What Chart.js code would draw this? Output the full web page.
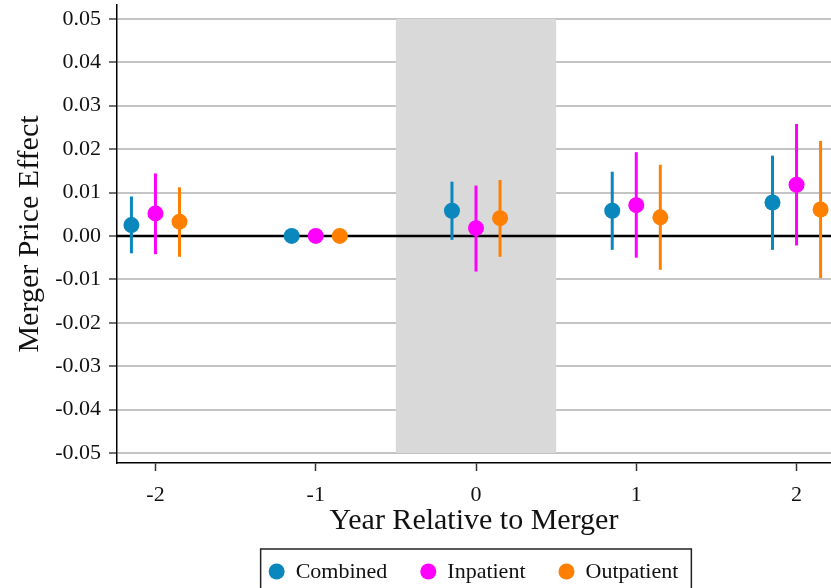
<!DOCTYPE html>
<html>
<head>
<meta charset="utf-8">
<script src="https://cdn.jsdelivr.net/npm/chart.js@4.4.0/dist/chart.umd.min.js"></script>
<style>
  html, body { margin: 0; padding: 0; background: #fff; }
  #wrap { width: 831px; height: 588px; position: relative; }
</style>
</head>
<body>
<div id="wrap"><canvas id="mergerChart"></canvas></div>
<script>
// Data
const years = [-2, -1, 0, 1, 2];
const seriesNames = ["Combined", "Inpatient", "Outpatient"];
const seriesOffsets = [-0.15, 0, 0.15];
const seriesColors = ["#0a87bd", "#ff00ff", "#ff8000"];

const combinedEst = [0.0025, 0, 0.0058, 0.0058, 0.0077];
const combinedLo = [-0.0040, 0, -0.0009, -0.0032, -0.0032];
const combinedHi = [0.0091, 0, 0.0125, 0.0148, 0.0185];

const inpatientEst = [0.0052, 0, 0.0018, 0.0071, 0.0118];
const inpatientLo = [-0.0042, 0, -0.0082, -0.0050, -0.0022];
const inpatientHi = [0.0144, 0, 0.0116, 0.0193, 0.0258];

const outpatientEst = [0.0033, 0, 0.0041, 0.0043, 0.0061];
const outpatientLo = [-0.0048, 0, -0.0048, -0.0078, -0.0097];
const outpatientHi = [0.0112, 0, 0.0129, 0.0164, 0.0219];

const xTicks = [-2, -1, 0, 1, 2];
const yTicks = [-0.05, -0.04, -0.03, -0.02, -0.01, 0, 0.01, 0.02, 0.03, 0.04, 0.05];
const shadeX = [-0.5, 0.5];
const shadeY = [-0.05, 0.05];

const estimates = [combinedEst, inpatientEst, outpatientEst];
const lows = [combinedLo, inpatientLo, outpatientLo];
const highs = [combinedHi, inpatientHi, outpatientHi];

const serif = "'Liberation Serif', 'Times New Roman', serif";

// One scatter dataset per series, shifted sideways around each year
const datasets = seriesNames.map((name, s) => ({
  label: name,
  data: years.map((yr, i) => ({ x: yr + seriesOffsets[s], y: estimates[s][i] })),
  backgroundColor: seriesColors[s],
  borderWidth: 0,
  pointRadius: 8,
  pointHoverRadius: 8,
}));

// Shaded merger year, zero line and confidence intervals
const backdropPlugin = {
  id: "backdrop",
  beforeDatasetsDraw(chart) {
    const { ctx, chartArea, scales: { x, y } } = chart;
    ctx.save();
    ctx.fillStyle = "#d9d9d9";
    const sx0 = x.getPixelForValue(shadeX[0]);
    const sx1 = x.getPixelForValue(shadeX[1]);
    const sy0 = y.getPixelForValue(shadeY[1]);
    const sy1 = y.getPixelForValue(shadeY[0]);
    ctx.fillRect(sx0, sy0, sx1 - sx0, sy1 - sy0);

    ctx.strokeStyle = "#000";
    ctx.lineWidth = 2.5;
    const y0 = y.getPixelForValue(0);
    ctx.beginPath();
    ctx.moveTo(chartArea.left, y0);
    ctx.lineTo(chartArea.right, y0);
    ctx.stroke();

    ctx.lineWidth = 3;
    ctx.lineCap = "butt";
    seriesNames.forEach((name, s) => {
      ctx.strokeStyle = seriesColors[s];
      years.forEach((yr, i) => {
        if (lows[s][i] === highs[s][i]) return;
        const px = x.getPixelForValue(yr + seriesOffsets[s]);
        ctx.beginPath();
        ctx.moveTo(px, y.getPixelForValue(lows[s][i]));
        ctx.lineTo(px, y.getPixelForValue(highs[s][i]));
        ctx.stroke();
      });
    });
    ctx.restore();
  },
};

// Boxed legend centred under the plot
const boxLegendPlugin = {
  id: "boxLegend",
  afterDraw(chart) {
    const { ctx, chartArea } = chart;
    ctx.save();
    ctx.font = "22px " + serif;
    const widths = seriesNames.map((n) => ctx.measureText(n).width);
    const total = 8 + widths.reduce((a, w) => a + 27 + w, 0) + 33 * (seriesNames.length - 1) + 13;
    const cx = (chartArea.left + chartArea.right) / 2 + 2;
    const left = cx - total / 2;
    const top = 549;
    ctx.strokeStyle = "#222";
    ctx.lineWidth = 1.5;
    ctx.strokeRect(left, top, total, 60);

    const cy = 571.5;
    let cursor = left + 8;
    ctx.textBaseline = "middle";
    ctx.textAlign = "left";
    seriesNames.forEach((n, s) => {
      ctx.fillStyle = seriesColors[s];
      ctx.beginPath();
      ctx.arc(cursor + 8, cy, 8, 0, Math.PI * 2);
      ctx.fill();
      ctx.fillStyle = "#111";
      ctx.fillText(n, cursor + 27, cy + 1);
      cursor += 27 + widths[s] + 33;
    });
    ctx.restore();
  },
};

const ctx = document.getElementById("mergerChart");
new Chart(ctx, {
  type: "scatter",
  data: { datasets },
  options: {
    responsive: true,
    maintainAspectRatio: false,
    animation: false,
    layout: { autoPadding: false, padding: { top: 5, right: 0, left: 0, bottom: 40 } },
    plugins: {
      legend: { display: false },
      tooltip: { enabled: false },
    },
    scales: {
      x: {
        type: "linear",
        min: -2.24,
        max: 2.215,
        afterBuildTicks: (scale) => {
          scale.ticks = xTicks.map((v) => ({ value: v }));
        },
        afterFit: (scale) => {
          scale.height = 85;
          scale.paddingLeft = 0;
          scale.paddingRight = 0;
        },
        ticks: {
          color: "#111",
          padding: 11,
          font: { family: serif, size: 22 },
          callback: (v) => String(v),
        },
        grid: {
          drawOnChartArea: false,
          drawTicks: true,
          tickLength: 8,
          tickColor: "#333",
          tickWidth: 1.5,
        },
        border: { color: "#000", width: 1.5 },
        title: {
          display: true,
          text: "Year Relative to Merger",
          color: "#111",
          font: { family: serif, size: 30 },
          padding: { top: 0, bottom: 9 },
        },
      },
      y: {
        min: -0.0523,
        max: 0.0532,
        afterBuildTicks: (scale) => {
          scale.ticks = yTicks.map((v) => ({ value: v }));
        },
        afterFit: (scale) => {
          scale.width = 117;
          scale.paddingTop = 0;
          scale.paddingBottom = 0;
        },
        ticks: {
          color: "#111",
          padding: 8,
          font: { family: serif, size: 22 },
          callback: (v) => Number(v).toFixed(2),
        },
        grid: {
          color: "#c4c4c4",
          lineWidth: 2,
          tickLength: 8,
          tickColor: "#444",
          tickWidth: 1.5,
        },
        border: { color: "#000", width: 1.5 },
        title: {
          display: true,
          text: "Merger Price Effect",
          color: "#111",
          font: { family: serif, size: 30 },
          padding: { top: 12, bottom: 0 },
        },
      },
    },
  },
  plugins: [backdropPlugin, boxLegendPlugin],
});
</script>
</body>
</html>
